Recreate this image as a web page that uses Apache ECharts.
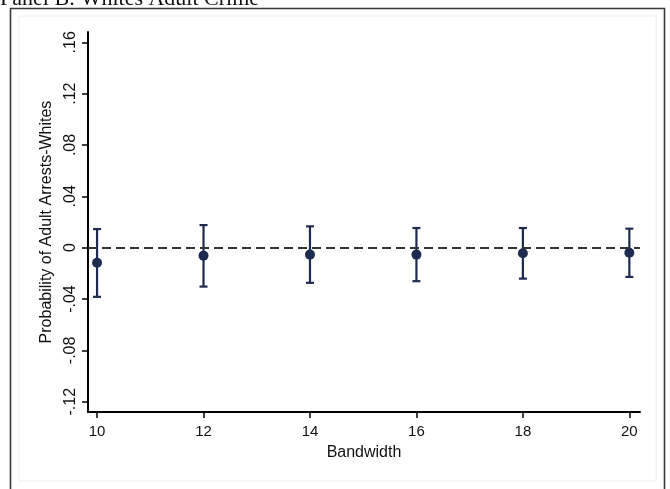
<!DOCTYPE html>
<html>
<head>
<meta charset="utf-8">
<script src="https://cdn.jsdelivr.net/npm/echarts@6/dist/echarts.min.js"></script>
<style>
html,body{margin:0;padding:0;background:#fff;}
#chart{width:670px;height:489px;}
</style>
</head>
<body>
<div id="chart"></div>
<script>
// Data
var bandwidth = [10, 12, 14, 16, 18, 20];
var estimate  = [-0.0117, -0.0062, -0.0054, -0.0054, -0.0044, -0.0039];
var ciLower   = [-0.0383, -0.0303, -0.0274, -0.0261, -0.0241, -0.0228];
var ciUpper   = [0.0145, 0.0176, 0.0166, 0.0153, 0.0153, 0.0148];
var yTickValues = [-0.12, -0.08, -0.04, 0, 0.04, 0.08, 0.12, 0.16];
var yTickLabels = ['-.12', '-.08', '-.04', '0', '.04', '.08', '.12', '.16'];
var xTickValues = [10, 12, 14, 16, 18, 20];
var titleText = 'Panel B: Whites Adult Crime';
var xTitle = 'Bandwidth';
var yTitle = 'Probability of Adult Arrests-Whites';

var navy = '#1c2b4f';
var chart = echarts.init(document.getElementById('chart'), null, {renderer: 'canvas'});

var errData = bandwidth.map(function (b, i) { return [b, ciLower[i], ciUpper[i]]; });
var ptData = bandwidth.map(function (b, i) { return [b, estimate[i]]; });

function yFmt(v) {
  for (var i = 0; i < yTickValues.length; i++) {
    if (Math.abs(yTickValues[i] - v) < 1e-9) return yTickLabels[i];
  }
  return '';
}

var option = {
  animation: false,
  backgroundColor: '#ffffff',
  graphic: [
    {type: 'rect', z: -10, silent: true,
     shape: {x: 19, y: 16, width: 637, height: 465},
     style: {fill: '#ffffff', stroke: '#eaf0f0', lineWidth: 1}},
    {type: 'polyline', z: 100, silent: true,
     shape: {points: [[10.5, 495], [10.5, 8.5], [664.5, 8.5], [664.5, 495]]},
     style: {fill: null, stroke: '#3a3a3a', lineWidth: 1.6}},
    {type: 'text', z: 100, silent: true, x: 0, y: 10,
     style: {text: titleText, fontSize: 22, fontFamily: '"Liberation Serif", "DejaVu Serif", serif',
             fill: '#111', align: 'left', verticalAlign: 'bottom'}}
  ],
  grid: {left: 88, right: 30, top: 32, bottom: 77, containLabel: false},
  xAxis: {
    type: 'value', min: 9.83, max: 20.2,
    axisLine: {show: true, onZero: false, lineStyle: {color: '#000', width: 2}},
    axisTick: {show: true, length: 6, lineStyle: {color: '#000', width: 1.5}, customValues: xTickValues},
    axisLabel: {show: true, margin: 12, fontSize: 15, color: '#111',
                fontFamily: '"Liberation Sans", Arial, sans-serif', customValues: xTickValues,
                formatter: function (v) { return String(v); }},
    splitLine: {show: false},
    name: xTitle, nameLocation: 'middle', nameGap: 33,
    nameTextStyle: {fontSize: 16, color: '#111', fontFamily: '"Liberation Sans", Arial, sans-serif'}
  },
  yAxis: {
    type: 'value', min: -0.128, max: 0.168,
    axisLine: {show: true, onZero: false, lineStyle: {color: '#000', width: 2}},
    axisTick: {show: true, length: 6, lineStyle: {color: '#000', width: 1.5}, customValues: yTickValues},
    axisLabel: {show: true, margin: 9, rotate: 90, fontSize: 16, color: '#111',
                fontFamily: '"Liberation Sans", Arial, sans-serif', customValues: yTickValues,
                formatter: yFmt},
    splitLine: {show: false},
    name: yTitle, nameLocation: 'middle', nameGap: 33,
    nameTextStyle: {fontSize: 16, color: '#111', fontFamily: '"Liberation Sans", Arial, sans-serif'}
  },
  series: [
    {
      type: 'line', data: [], silent: true,
      markLine: {
        silent: true, symbol: 'none', label: {show: false},
        lineStyle: {color: '#333', width: 2, type: [9, 5]},
        data: [{yAxis: 0}]
      }
    },
    {
      type: 'custom',
      data: errData,
      encode: {x: 0, y: [1, 2]},
      renderItem: function (params, api) {
        var x = api.value(0);
        var lo = api.coord([x, api.value(1)]);
        var hi = api.coord([x, api.value(2)]);
        var hw = 4;
        var st = {stroke: navy, lineWidth: 2.2, fill: null};
        return {
          type: 'group',
          children: [
            {type: 'line', shape: {x1: lo[0], y1: lo[1], x2: hi[0], y2: hi[1]}, style: st},
            {type: 'line', shape: {x1: lo[0] - hw, y1: lo[1], x2: lo[0] + hw, y2: lo[1]}, style: st},
            {type: 'line', shape: {x1: hi[0] - hw, y1: hi[1], x2: hi[0] + hw, y2: hi[1]}, style: st}
          ]
        };
      },
      z: 3
    },
    {
      type: 'scatter', data: ptData, symbol: 'circle', symbolSize: 10,
      itemStyle: {color: navy, opacity: 1}, z: 4
    }
  ]
};
chart.setOption(option);
</script>
</body>
</html>
